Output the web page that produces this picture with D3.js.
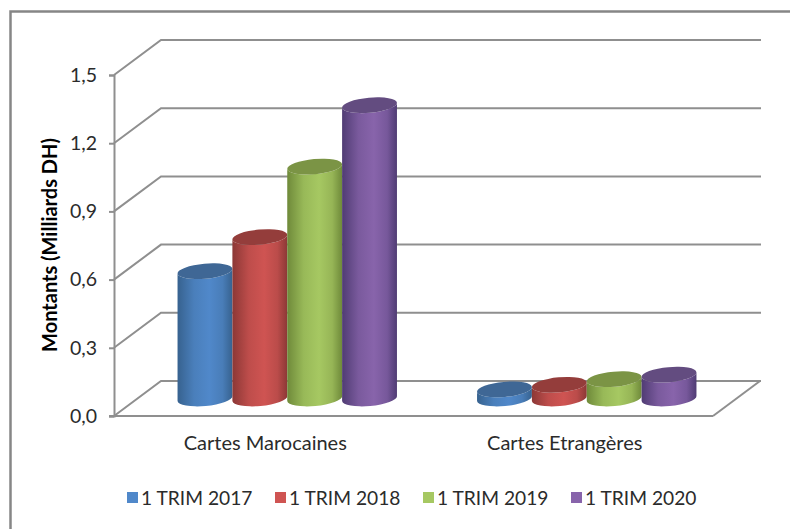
<!DOCTYPE html>
<html>
<head>
<meta charset="utf-8">
<script src="https://cdn.jsdelivr.net/npm/d3@7/dist/d3.min.js"></script>
<style>
  html, body { margin: 0; padding: 0; background: #fff; }
  svg { display: block; }
  text { font-family: Lato, "Open Sans", sans-serif; fill: #2b2b2b; }
</style>
</head>
<body>
<div id="chart"></div>
<script>
// DATA
const categories = ["Cartes Marocaines", "Cartes Etrangères"]
const seriesNames = ["1 TRIM 2017", "1 TRIM 2018", "1 TRIM 2019", "1 TRIM 2020"]
const trim2017 = [0.56, 0.04]
const trim2018 = [0.71, 0.06]
const trim2019 = [1.02, 0.085]
const trim2020 = [1.29, 0.105]
const yTicks = [0, 0.3, 0.6, 0.9, 1.2, 1.5]
const yTitle = "Montants (Milliards DH)"

const seriesValues = [trim2017, trim2018, trim2019, trim2020]
// edge, middle, top cap
const seriesColors = [
  ["#37628f", "#5088ca", "#3f6795"],
  ["#8c3836", "#cf5452", "#943d3b"],
  ["#6f8a3a", "#a6c862", "#7b9445"],
  ["#503c74", "#8864ab", "#634c80"]
]
const legendX = [127, 275, 423, 571]

const width = 790, height = 529
const depth = {x: 47, y: -35}
const axisColor = "#8f8f8f"

const svg = d3.select("#chart").append("svg")
  .attr("width", width)
  .attr("height", height)

// outer frame, only top and left are in the crop
svg.append("path")
  .attr("d", "M10.5," + height + "V11.5H" + width)
  .attr("fill", "none")
  .attr("stroke", "#868686")
  .attr("stroke-width", 2.5)

// SCALES
const xScale = d3.scaleBand().domain(categories).range([114, 713])
const yScale = d3.scaleLinear().domain([0, 1.5]).range([416, 75])
const seriesScale = d3.scaleBand()
  .domain(seriesNames)
  .range([0, xScale.bandwidth()])
  .paddingOuter(0.73)
  .paddingInner(0)

// GRADIENTS
const defs = svg.append("defs")
seriesColors.forEach(function(c, i) {
  const grad = defs.append("linearGradient").attr("id", "cyl" + i)
  grad.append("stop").attr("offset", "0%").attr("stop-color", c[0])
  grad.append("stop").attr("offset", "30%").attr("stop-color", d3.interpolateRgb(c[0], c[1])(0.75))
  grad.append("stop").attr("offset", "58%").attr("stop-color", c[1])
  grad.append("stop").attr("offset", "82%").attr("stop-color", d3.interpolateRgb(c[0], c[1])(0.7))
  grad.append("stop").attr("offset", "100%").attr("stop-color", c[0])
})

// WALLS
const grid = svg.append("g")
  .attr("fill", "none")
  .attr("stroke", axisColor)
  .attr("stroke-width", 2)

yTicks.forEach(function(t) {
  const y = yScale(t)
  grid.append("path")
    .attr("d", "M" + 114 + "," + y + "l" + depth.x + "," + depth.y + "H" + 761)
})
// floor
grid.append("path")
  .attr("d", "M" + 713 + "," + yScale(0) + "l" + depth.x + "," + depth.y)

// AXES
const yAxis = d3.axisLeft(yScale)
  .tickValues(yTicks)
  .tickSize(5)
  .tickPadding(12)
  .tickFormat(function(d) { return d3.format(".1f")(d).replace(".", ",") })

const yAxisG = svg.append("g")
  .attr("transform", "translate(114,0)")
  .call(yAxis)
yAxisG.selectAll("path, line")
  .attr("stroke", axisColor)
  .attr("stroke-width", 2)
yAxisG.selectAll("text")
  .attr("font-size", 19.5)
  .style("font-family", "Lato, sans-serif")

const xAxis = d3.axisBottom(xScale).tickSize(0).tickPadding(20)
const xAxisG = svg.append("g")
  .attr("transform", "translate(0,416)")
  .call(xAxis)
xAxisG.select(".domain")
  .attr("d", "M109,0H713")
  .attr("stroke", axisColor)
  .attr("stroke-width", 2)
xAxisG.selectAll("text")
  .attr("font-size", 20)
  .attr("dx", 1.5)
  .style("font-family", "Lato, sans-serif")

svg.append("text")
  .attr("transform", "translate(57,245) rotate(-90)")
  .attr("text-anchor", "middle")
  .attr("font-size", 20)
  .attr("font-weight", "bold")
  .style("fill", "#000")
  .text(yTitle)

// CYLINDERS
const ry = 7.5
const tilt = 0.09   // slope of the ellipse
const tiltAngle = -Math.atan(tilt) * 180 / Math.PI

function capPath(cx, cy, rx) {
  return "M" + (cx - rx) + "," + (cy + rx * tilt) +
    "A" + rx + "," + ry + " " + tiltAngle + " 1 1 " + (cx + rx) + "," + (cy - rx * tilt) +
    "A" + rx + "," + ry + " " + tiltAngle + " 1 1 " + (cx - rx) + "," + (cy + rx * tilt) + "Z"
}

function bodyPath(cx, topY, baseY, rx) {
  return "M" + (cx - rx) + "," + (topY + rx * tilt) +
    "L" + (cx - rx) + "," + (baseY + rx * tilt) +
    "A" + rx + "," + ry + " " + tiltAngle + " 0 0 " + (cx + rx) + "," + (baseY - rx * tilt) +
    "L" + (cx + rx) + "," + (topY - rx * tilt) +
    "A" + rx + "," + ry + " " + tiltAngle + " 0 1 " + (cx - rx) + "," + (topY + rx * tilt) + "Z"
}

const rx = seriesScale.bandwidth() / 2
const baseY = yScale(0) + depth.y / 2

seriesNames.forEach(function(name, i) {
  const g = svg.append("g").attr("class", "series")
  categories.forEach(function(cat, j) {
    const cx = xScale(cat) + seriesScale(name) + rx + depth.x / 2
    const topY = baseY - (yScale(0) - yScale(seriesValues[i][j]))
    g.append("path")
      .attr("d", bodyPath(cx, topY, baseY, rx))
      .attr("fill", "url(#cyl" + i + ")")
    g.append("path")
      .attr("d", capPath(cx, topY, rx))
      .attr("fill", seriesColors[i][2])
  })
})

// LEGEND
const legend = svg.selectAll(".legend")
  .data(seriesNames)
  .enter().append("g")
  .attr("class", "legend")
  .attr("transform", function(d, i) { return "translate(" + legendX[i] + ",492)" })

legend.append("rect")
  .attr("width", 11)
  .attr("height", 11)
  .attr("fill", function(d, i) { return seriesColors[i][1] })

legend.append("text")
  .attr("x", 14)
  .attr("y", 12.5)
  .attr("font-size", 19.2)
  .text(function(d) { return d })
</script>
</body>
</html>
